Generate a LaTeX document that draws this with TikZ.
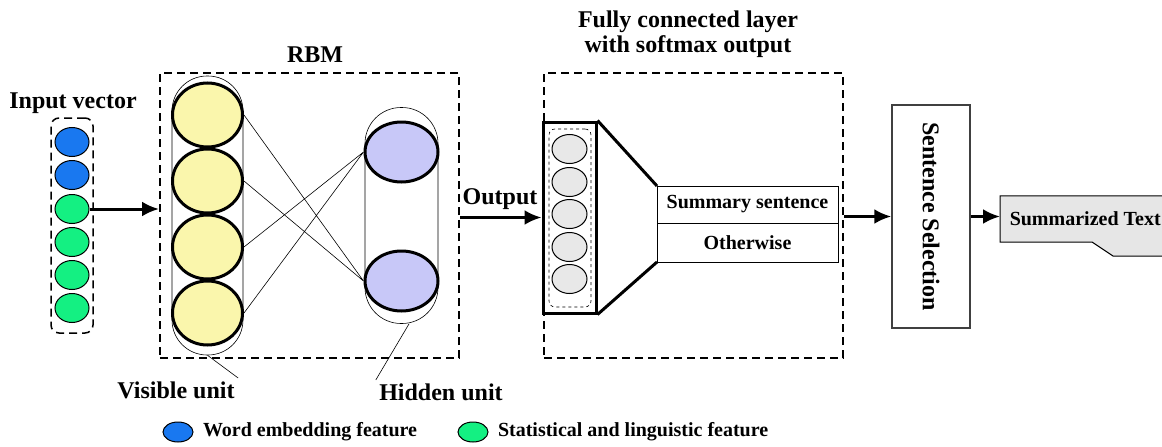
\documentclass[tikz,border=0pt]{standalone}
\usepackage{fontspec}
\setmainfont{Liberation Serif}
\usetikzlibrary{positioning,arrows.meta,shapes,backgrounds}

\definecolor{wordblue}{RGB}{25,120,240}
\definecolor{statgreen}{RGB}{20,240,130}
\definecolor{visyellow}{RGB}{250,246,172}
\definecolor{hidpurple}{RGB}{200,200,248}
\definecolor{cellgray}{RGB}{232,232,232}
\definecolor{docgray}{RGB}{230,230,230}

\begin{document}
\begin{tikzpicture}[x=1pt,y=-1pt]
\tikzstyle{lbl}=[font=\fontsize{24}{25}\selectfont\bfseries]
\tikzstyle{small}=[font=\fontsize{20}{22}\selectfont\bfseries]
\tikzstyle{dashbox}=[draw, line width=2pt, dash pattern=on 8pt off 5pt, inner sep=0pt]
\tikzstyle{feat}=[ellipse, draw, line width=1pt, minimum width=34pt, minimum height=29pt, inner sep=0pt]
\tikzstyle{unit}=[ellipse, draw, line width=3pt, inner sep=0pt]
\tikzstyle{column}=[draw, line width=0.6pt, inner sep=0pt]
\tikzstyle{arr}=[line width=3pt, -{Latex[length=17pt,width=15pt]}]

\useasboundingbox (0,0) rectangle (1162,447);

% input vector
\node[lbl] (inlbl) at (73,103) {Input vector};
\node[dashbox, line width=1.5pt, rounded corners=8pt, minimum width=42pt, minimum height=215pt] (inbox) at (72,225.5) {};
\foreach \i/\y/\c in {1/142/wordblue,2/175/wordblue,3/209/statgreen,4/242/statgreen,5/275/statgreen,6/308/statgreen}
  \node[feat, fill=\c] (in\i) at (72,\y) {};

% RBM
\node[dashbox, minimum width=299pt, minimum height=285pt] (rbm) at (309.5,215.5) {};
\node[lbl] (rbmlbl) at (315,55) {RBM};
\node[column, rounded corners=35pt, minimum width=71pt, minimum height=279pt] (vcol) at (207.5,215.5) {};
\node[column, rounded corners=36pt, minimum width=73pt, minimum height=216pt] (hcol) at (401.5,215.5) {};
\foreach \i/\y in {1/115,2/181,3/247,4/313}
  \node[unit, fill=visyellow, minimum width=70pt, minimum height=64pt] (v\i) at (207.5,\y) {};
\node[unit, fill=hidpurple, minimum width=73pt, minimum height=60pt] (h1) at (401.5,152) {};
\node[unit, fill=hidpurple, minimum width=73pt, minimum height=60pt] (h2) at (401.5,281) {};
\draw[line width=0.6pt] (v1.east) -- (h2.west) (v2.east) -- (h2.west) (v3.east) -- (h1.west) (v4.east) -- (h1.west);

\node[lbl] (vlab) at (176,390) {Visible unit};
\node[lbl] (hlab) at (441,392) {Hidden unit};
\draw[line width=0.6pt] (vlab.north east) -- (vcol.south);
\draw[line width=0.6pt] (hlab.north west) -- (hcol.-86);

\draw[arr] (in3.east) -- (in3.east -| rbm.west);

% fully connected layer
\node[dashbox, minimum width=299pt, minimum height=285pt] (fc) at (693.5,215.5) {};
\node[lbl, align=center] (fclbl) at (688,34) {Fully connected layer\\with softmax output};
\node[draw, line width=3pt, minimum width=53pt, minimum height=191pt, inner sep=0pt] (fcin) at (569.5,217.5) {};
\node[draw, line width=0.6pt, dashed, rounded corners=6pt, minimum width=42pt, minimum height=178pt] (fcdash) at (570,218) {};
\foreach \i/\y in {1/149,2/182,3/214,4/247,5/279}
  \node[feat, fill=cellgray, minimum width=35pt] (o\i) at (569.5,\y) {};
\node[draw, small, line width=1pt, outer sep=0pt, minimum width=181pt, minimum height=37pt] (summ) at (747.5,204.5) {Summary sentence};
\node[draw, small, line width=1pt, outer sep=0pt, minimum width=181pt, minimum height=39pt, below=0pt of summ] (other) {Otherwise};
\draw[line width=3pt] (fcin.north east) -- (summ.north west) (fcin.south east) -- (other.south west);

\node[lbl] (outlbl) at (500,199) {Output};
\draw[arr] (rbm.east |- fcin.west) -- (fcin.west);

% sentence selection
\node[draw=black!75, line width=1.5pt, minimum width=78pt, minimum height=223pt] (sel) at (931,216.5) {};
\node[lbl, rotate=-90] (seltxt) at (sel) {Sentence Selection};
\draw[arr] (fc.east |- sel.west) -- (sel.west);

\node[small, anchor=west, minimum width=170pt, minimum height=46pt, inner sep=0pt] (doc) at (1000,219) {Summarized Text};
\begin{scope}[on background layer]
\draw[line width=1pt, fill=docgray] (doc.north west) -- (doc.north east) -- ([yshift=-14pt]doc.south east) -- (1113,256) -- (1092,242) -- (doc.south west) -- cycle;
\end{scope}
\draw[arr] (sel.east) -- (sel.east -| doc.west);

% legend
\node[feat, fill=wordblue, minimum width=30pt, minimum height=20pt] (lgw) at (178,432) {};
\node[small, right=6pt of lgw] (lgwt) {Word embedding feature};
\node[feat, fill=statgreen, minimum width=30pt, minimum height=20pt] (lgs) at (473,432) {};
\node[small, right=6pt of lgs] (lgst) {Statistical and linguistic feature};
\end{tikzpicture}
\end{document}
